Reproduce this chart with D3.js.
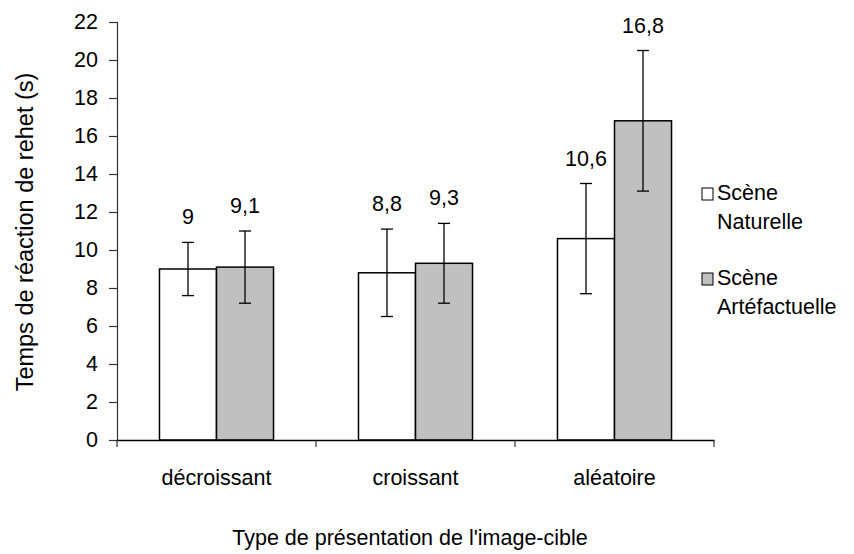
<!DOCTYPE html>
<html lang="fr">
<head>
<meta charset="UTF-8">
<title>Temps de réaction</title>
<script src="https://d3js.org/d3.v7.min.js"></script>
<style>
  body { margin: 0; background: #fff; }
  text { font-family: "Liberation Sans", Arial, sans-serif; fill: #000; }
</style>
</head>
<body>
<svg width="854" height="554"></svg>
<script>
// data
const categories = ["décroissant", "croissant", "aléatoire"];
const series = ["Scène Naturelle", "Scène Artéfactuelle"];
const naturelle = [9, 8.8, 10.6];
const artefactuelle = [9.1, 9.3, 16.8];
const errNaturelle = [1.4, 2.3, 2.9];
const errArtefactuelle = [1.9, 2.1, 3.7];
const labelsNaturelle = ["9", "8,8", "10,6"];
const labelsArtefactuelle = ["9,1", "9,3", "16,8"];
const yTicks = d3.range(0, 23, 2);

const svg = d3.select("svg");
const margin = {left: 117, right: 140, top: 22, bottom: 114};
const width = 854, height = 554;
const fs = 21.5;

const x = d3.scaleBand()
    .domain(categories)
    .range([margin.left, width - margin.right]);
const x1 = d3.scaleBand()
    .domain(series)
    .range([0, x.bandwidth()])
    .paddingOuter(0.745).paddingInner(0);
const y = d3.scaleLinear()
    .domain([0, 22])
    .range([height - margin.bottom, margin.top]);

const fills = ["#ffffff", "#c0c0c0"];

const rows = [];
categories.forEach((c, i) => {
    rows.push({cat: c, s: series[0], v: naturelle[i], e: errNaturelle[i], lab: labelsNaturelle[i], fill: fills[0]});
    rows.push({cat: c, s: series[1], v: artefactuelle[i], e: errArtefactuelle[i], lab: labelsArtefactuelle[i], fill: fills[1]});
});

// bars
svg.append("g").selectAll("rect")
    .data(rows)
    .join("rect")
    .attr("x", d => x(d.cat) + x1(d.s))
    .attr("y", d => y(d.v))
    .attr("width", x1.bandwidth())
    .attr("height", d => y(0) - y(d.v))
    .attr("fill", d => d.fill)
    .attr("stroke", "#000")
    .attr("stroke-width", 1.5);

// error bars
const eb = svg.append("g").attr("stroke", "#000").attr("stroke-width", 1.3);
rows.forEach(d => {
    const cx = x(d.cat) + x1(d.s) + x1.bandwidth() / 2;
    eb.append("line").attr("x1", cx).attr("x2", cx).attr("y1", y(d.v + d.e)).attr("y2", y(d.v - d.e));
    eb.append("line").attr("x1", cx - 6).attr("x2", cx + 6).attr("y1", y(d.v + d.e)).attr("y2", y(d.v + d.e));
    eb.append("line").attr("x1", cx - 6).attr("x2", cx + 6).attr("y1", y(d.v - d.e)).attr("y2", y(d.v - d.e));
});

// value labels
svg.append("g").selectAll("text")
    .data(rows)
    .join("text")
    .attr("x", d => x(d.cat) + x1(d.s) + x1.bandwidth() / 2)
    .attr("y", d => y(d.v + d.e) - 18)
    .attr("text-anchor", "middle")
    .attr("font-size", fs)
    .text(d => d.lab);

// y axis
const yAxis = svg.append("g")
    .attr("transform", `translate(${margin.left},0)`)
    .call(d3.axisLeft(y).tickValues(yTicks).tickSize(8).tickPadding(11));
yAxis.selectAll("text").attr("font-size", fs);
yAxis.selectAll("line,path").attr("stroke", "#333").attr("stroke-width", 1.2);

// x axis
const xAxis = svg.append("g")
    .attr("transform", `translate(0,${y(0)})`)
    .call(d3.axisBottom(x).tickSize(0).tickPadding(30));
xAxis.select(".domain").attr("stroke", "#000").attr("stroke-width", 1.5);
xAxis.selectAll("text").attr("font-size", fs);
// category separators below axis
svg.append("g").selectAll("line")
    .data(categories.concat(["end"]))
    .join("line")
    .attr("x1", (d, i) => i < categories.length ? x(d) : x.range()[1])
    .attr("x2", (d, i) => i < categories.length ? x(d) : x.range()[1])
    .attr("y1", y(0))
    .attr("y2", y(0) + 7)
    .attr("stroke", "#333")
    .attr("stroke-width", 1.2);

// axis titles
svg.append("text")
    .attr("x", 410)
    .attr("y", 545)
    .attr("text-anchor", "middle")
    .attr("font-size", fs)
    .text("Type de présentation de l'image-cible");
svg.append("text")
    .attr("transform", "translate(33,232) rotate(-90)")
    .attr("text-anchor", "middle")
    .attr("font-size", 23.5)
    .text("Temps de réaction de rehet (s)");

// legend
const legend = svg.append("g").attr("transform", "translate(702,188)");
series.forEach((s, i) => {
    const g = legend.append("g").attr("transform", `translate(0,${i * 85})`);
    g.append("rect").attr("width", 11).attr("height", 12)
        .attr("fill", fills[i]).attr("stroke", "#000").attr("stroke-width", 1);
    const words = s.split(" ");
    g.append("text").attr("x", 15).attr("y", 12).attr("font-size", fs).text(words[0]);
    g.append("text").attr("x", 15).attr("y", 41).attr("font-size", fs).text(words[1]);
});
</script>
</body>
</html>
